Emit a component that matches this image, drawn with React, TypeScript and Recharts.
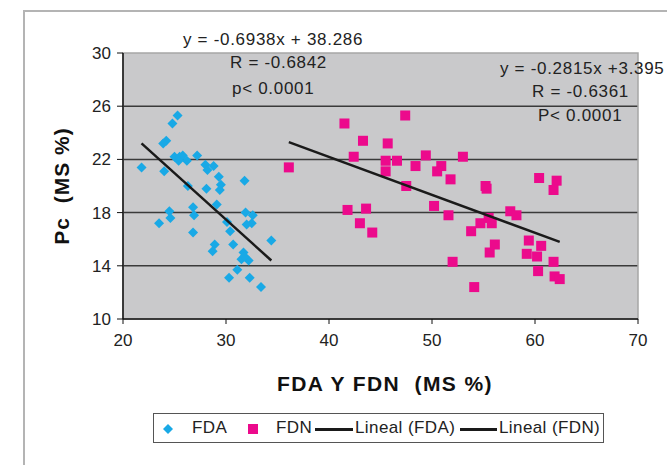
import { ScatterChart, Scatter, XAxis, YAxis, CartesianGrid, ReferenceArea } from 'recharts';

const xTicks = [20, 30, 40, 50, 60, 70];
const yTicks = [10, 14, 18, 22, 26, 30];
const gridValues = [14, 18, 22, 26];

const fdaX = [25.3, 24.8, 24.2, 23.9, 21.8, 24.0, 25.0, 25.5, 25.8, 26.2, 25.4, 27.2, 28.0, 28.8, 28.2, 29.3, 29.5, 29.4, 28.1, 26.3, 31.8, 29.1, 24.5, 23.5, 24.6, 26.8, 26.9, 26.8, 31.9, 32.6, 32.5, 32.0, 30.1, 30.4, 34.4, 30.7, 28.9, 28.7, 31.7, 31.5, 32.2, 31.1, 30.3, 32.3, 33.4, 31.8];
const fdaY = [25.3, 24.7, 23.4, 23.2, 21.4, 21.1, 22.2, 22.2, 22.3, 21.9, 21.9, 22.3, 21.6, 21.5, 21.2, 20.7, 20.1, 19.7, 19.8, 20.0, 20.4, 18.6, 18.1, 17.2, 17.6, 18.4, 17.8, 16.5, 18.0, 17.8, 17.2, 17.1, 17.3, 16.6, 15.9, 15.6, 15.6, 15.1, 15.0, 14.5, 14.4, 13.7, 13.1, 13.1, 12.4, 14.7];

const fdnX = [41.5, 47.4, 43.3, 45.7, 42.4, 45.5, 46.6, 45.5, 48.4, 49.4, 50.9, 50.5, 51.8, 53.0, 47.5, 55.2, 55.3, 60.4, 62.1, 61.8, 41.8, 43.6, 43.0, 44.2, 50.2, 51.6, 57.6, 58.2, 55.5, 55.8, 54.7, 53.8, 56.1, 55.6, 59.4, 60.6, 59.2, 60.2, 61.8, 60.3, 61.9, 62.4, 52.0, 54.1, 36.1];
const fdnY = [24.7, 25.3, 23.4, 23.2, 22.2, 21.9, 21.9, 21.1, 21.5, 22.3, 21.5, 21.1, 20.5, 22.2, 20.0, 20.0, 19.8, 20.6, 20.4, 19.7, 18.2, 18.3, 17.2, 16.5, 18.5, 17.8, 18.1, 17.8, 17.6, 17.2, 17.2, 16.6, 15.6, 15.0, 15.9, 15.5, 14.9, 14.7, 14.3, 13.6, 13.2, 13.0, 14.3, 12.4, 21.4];

// trend line ends
const fdaTrendX = [21.8, 34.4];
const fdaTrendY = [23.2, 14.4];
const fdnTrendX = [36.1, 62.4];
const fdnTrendY = [23.3, 15.8];

const toPoints = (xs: number[], ys: number[]) => xs.map((x, i) => ({ x, y: ys[i] }));

const fda = toPoints(fdaX, fdaY);
const fdn = toPoints(fdnX, fdnY);
const fdaTrend = toPoints(fdaTrendX, fdaTrendY);
const fdnTrend = toPoints(fdnTrendX, fdnTrendY);

const BLUE = '#19a9e6';
const PINK = '#ec0a8c';
const FONT = '"Liberation Sans", Arial, sans-serif';

const Diamond = (props: any) => {
  const { cx, cy } = props;
  const r = 5;
  return <polygon points={`${cx},${cy - r} ${cx + r},${cy} ${cx},${cy + r} ${cx - r},${cy}`} fill={BLUE} />;
};

const Square = (props: any) => {
  const { cx, cy } = props;
  return <rect x={cx - 5} y={cy - 5} width={10} height={10} fill={PINK} />;
};

const NoDot = () => <g />;

const note = (top: number, left: number, text: string) => (
  <div style={{ position: 'absolute', top, left, fontSize: 17, letterSpacing: 0.7, color: '#222', whiteSpace: 'nowrap', lineHeight: '18px' }}>{text}</div>
);

const legendText = (left: number, text: string) => (
  <span style={{ position: 'absolute', left, top: 419, fontSize: 17, letterSpacing: 0.4, lineHeight: '18px', color: '#222', whiteSpace: 'nowrap' }}>{text}</span>
);

const legendLine = (left: number, width: number) => (
  <div style={{ position: 'absolute', left, top: 428, width, height: 3, background: '#1a1a1a' }} />
);

export default function App() {
  return (
    <div style={{ position: 'absolute', left: 0, top: 0, width: 667, height: 465, overflow: 'hidden', background: '#fff', fontFamily: FONT }}>
      <div style={{ position: 'absolute', left: 23, top: 10, width: 700, height: 500, borderLeft: '2px solid #b4b4b4', borderTop: '2px solid #b4b4b4' }} />
      <ScatterChart width={667} height={465} margin={{ top: 53, right: 29, left: 63, bottom: 116 }}>
        <CartesianGrid vertical={false} horizontalValues={gridValues} fill="#c9c9cb" stroke="#3a3a3a" strokeWidth={1.5} />
        <ReferenceArea x1={20} x2={70} y1={10} y2={30} fill="none" stroke="#a6a6a6" strokeWidth={1.5} />
        <XAxis type="number" dataKey="x" domain={[20, 70]} ticks={xTicks} allowDataOverflow
          tick={{ fontSize: 17, fill: '#222', fontFamily: FONT }} tickSize={5} tickMargin={10}
          axisLine={{ stroke: '#111', strokeWidth: 1.5 }} tickLine={{ stroke: '#111' }} height={30} />
        <YAxis type="number" dataKey="y" domain={[10, 30]} ticks={yTicks} allowDataOverflow
          tick={{ fontSize: 17, fill: '#222', fontFamily: FONT }} tickSize={6} tickMargin={6}
          axisLine={{ stroke: '#111', strokeWidth: 1.5 }} tickLine={{ stroke: '#111' }} width={60} />
        <Scatter name="FDA" data={fda} shape={Diamond} isAnimationActive={false} />
        <Scatter name="FDN" data={fdn} shape={Square} isAnimationActive={false} />
        <Scatter name="Lineal (FDA)" data={fdaTrend} shape={NoDot} line={{ stroke: '#1a1a1a', strokeWidth: 2.5 }} isAnimationActive={false} />
        <Scatter name="Lineal (FDN)" data={fdnTrend} shape={NoDot} line={{ stroke: '#1a1a1a', strokeWidth: 2.5 }} isAnimationActive={false} />
      </ScatterChart>

      {note(31, 183, 'y = -0.6938x + 38.286')}
      {note(54, 230, 'R = -0.6842')}
      {note(80, 232, 'p< 0.0001')}
      {note(60, 500, 'y = -0.2815x +3.395')}
      {note(83, 532, 'R = -0.6361')}
      {note(107, 538, 'P< 0.0001')}

      <div style={{ position: 'absolute', left: 277, top: 372, fontSize: 21, letterSpacing: 1.4, lineHeight: '24px', fontWeight: 'bold', color: '#111', whiteSpace: 'pre' }}>
        FDA Y FDN  (MS %)
      </div>
      <div style={{ position: 'absolute', left: 62, top: 186, transform: 'translate(-50%, -50%) rotate(-90deg)', fontSize: 21, letterSpacing: 1, lineHeight: '24px', fontWeight: 'bold', color: '#111', whiteSpace: 'pre' }}>
        Pc  (MS %)
      </div>

      <div style={{ position: 'absolute', left: 153, top: 413, width: 449, height: 28, border: '1px solid #555' }} />
      <svg width={10} height={10} style={{ position: 'absolute', left: 163, top: 424 }}><polygon points="5,0 10,5 5,10 0,5" fill={BLUE} /></svg>
      {legendText(192, 'FDA')}
      <svg width={10} height={10} style={{ position: 'absolute', left: 248, top: 424 }}><rect width={10} height={10} fill={PINK} /></svg>
      {legendText(276, 'FDN')}
      {legendLine(315, 38)}
      {legendText(355, 'Lineal (FDA)')}
      {legendLine(460, 37)}
      {legendText(499, 'Lineal (FDN)')}
    </div>
  );
}
